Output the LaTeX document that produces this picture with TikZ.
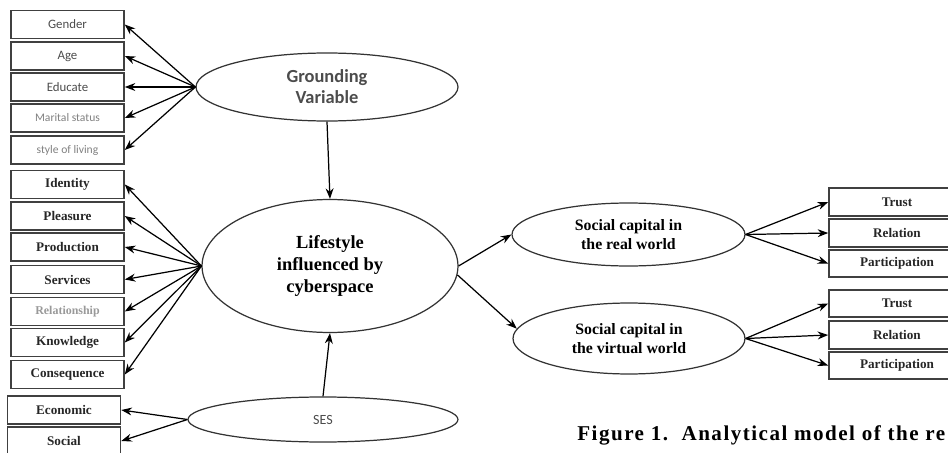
\documentclass[tikz,border=0pt]{standalone}
\usepackage{fontspec}
\setmainfont{Liberation Serif}
\newfontfamily\sansf{Carlito}
\usetikzlibrary{shapes.geometric,arrows.meta}
\tikzset{
  lbox/.style={draw=black!75, line width=0.9pt, rectangle, minimum width=2.26cm, minimum height=0.56cm, inner sep=0pt},
  rbox/.style={draw=black!75, line width=0.9pt, rectangle, minimum width=2.72cm, minimum height=0.55cm, inner sep=0pt},
  sanslab/.style={font=\sansf\fontsize{7.3}{8}\selectfont, text=black!70},
  lightlab/.style={font=\sansf\fontsize{6.6}{7}\selectfont, text=black!50},
  serlab/.style={font=\bfseries\fontsize{7.5}{8}\selectfont, text=black!85},
  oval/.style={draw=black!80, line width=0.7pt, ellipse, inner sep=0pt, align=center},
  arr/.style={-{Stealth[length=6pt,width=4.5pt]}, line width=0.7pt, black}
}
\begin{document}
\begin{tikzpicture}[x=0.02cm,y=-0.02cm]
\useasboundingbox (0,0) rectangle (948,453);
\clip (0,0) rectangle (948,453);
% left boxes, top group
\node[lbox, sanslab] (gender) at (67.5,24.5) {Gender};
\node[lbox, sanslab] (age) at (67.5,56) {Age};
\node[lbox, sanslab] (educ) at (67.5,87) {Educate};
\node[lbox, lightlab] (marital) at (67.5,118) {Marital status};
\node[lbox, lightlab] (style) at (67.5,150) {style of living};
% left boxes, middle group
\node[lbox, serlab] (identity) at (67.5,184.5) {Identity};
\node[lbox, serlab] (pleasure) at (67.5,216) {Pleasure};
\node[lbox, serlab] (production) at (67.5,247) {Production};
\node[lbox, serlab] (services) at (67.5,279.5) {Services};
\node[lbox, font=\bfseries\fontsize{6.8}{7}\selectfont, text=black!40] (relation) at (67.5,311.5) {Relationship};
\node[lbox, serlab] (knowledge) at (67.5,342.5) {Knowledge};
\node[lbox, serlab] (conseq) at (67.5,374.5) {Consequence};
% left boxes, bottom group
\node[lbox, serlab] (economic) at (64,410) {Economic};
\node[lbox, serlab] (social) at (64,441) {Social};
% ellipses
\node[oval, minimum width=5.24cm, minimum height=1.36cm, font=\sansf\bfseries\fontsize{10.5}{12}\selectfont, text=black!70] (gv) at (327,87) {Grounding\\Variable};
\node[oval, minimum width=5.12cm, minimum height=2.66cm, font=\bfseries\fontsize{10.5}{12.5}\selectfont] (ls) at (330,266) {Lifestyle\\influenced by\\cyberspace};
\node[oval, minimum width=5.4cm, minimum height=0.9cm, font=\sansf\fontsize{8}{9}\selectfont, text=black!70] (ses) at (323,419.5) {SES};
\node[oval, minimum width=4.66cm, minimum height=1.26cm, font=\bfseries\fontsize{9}{10.5}\selectfont] (sr) at (628.5,234.5) {Social capital in\\the real world};
\node[oval, minimum width=4.64cm, minimum height=1.42cm, font=\bfseries\fontsize{9}{10.5}\selectfont] (sv) at (629,338.5) {Social capital in\\the virtual world};
% right boxes
\node[rbox, serlab] (trust1) at (897,202) {Trust};
\node[rbox, serlab] (rel1) at (897,233) {Relation};
\node[rbox, serlab] (part1) at (897,263.5) {Participation};
\node[rbox, serlab] (trust2) at (897,303.5) {Trust};
\node[rbox, serlab] (rel2) at (897,335) {Relation};
\node[rbox, serlab] (part2) at (897,365.5) {Participation};
% caption
\node[anchor=base west, inner sep=0pt, font=\bfseries\fontsize{12}{14}\selectfont\addfontfeatures{LetterSpace=7}] (cap) at (577,440) {Figure 1.\ \ Analytical model of the re};
% connectors
\foreach \t in {gender,age,educ,marital,style}
  \draw[arr] (gv.west) -- (\t.east);
\foreach \t in {identity,pleasure,production,services,relation,knowledge,conseq}
  \draw[arr] (ls.west) -- (\t.east);
\foreach \t in {economic,social}
  \draw[arr] (ses.west) -- (\t.east);
\draw[arr] (gv.south) -- (ls.north);
\draw[arr] (ses.north) -- (ls.south);
\draw[arr] (ls.0) -- (sr.west);
\draw[arr] (ls.-4) -- (sv.175);
\foreach \t in {trust1,rel1,part1}
  \draw[arr] (sr.east) -- (\t.west);
\foreach \t in {trust2,rel2,part2}
  \draw[arr] (sv.east) -- (\t.west);
\end{tikzpicture}
\end{document}
